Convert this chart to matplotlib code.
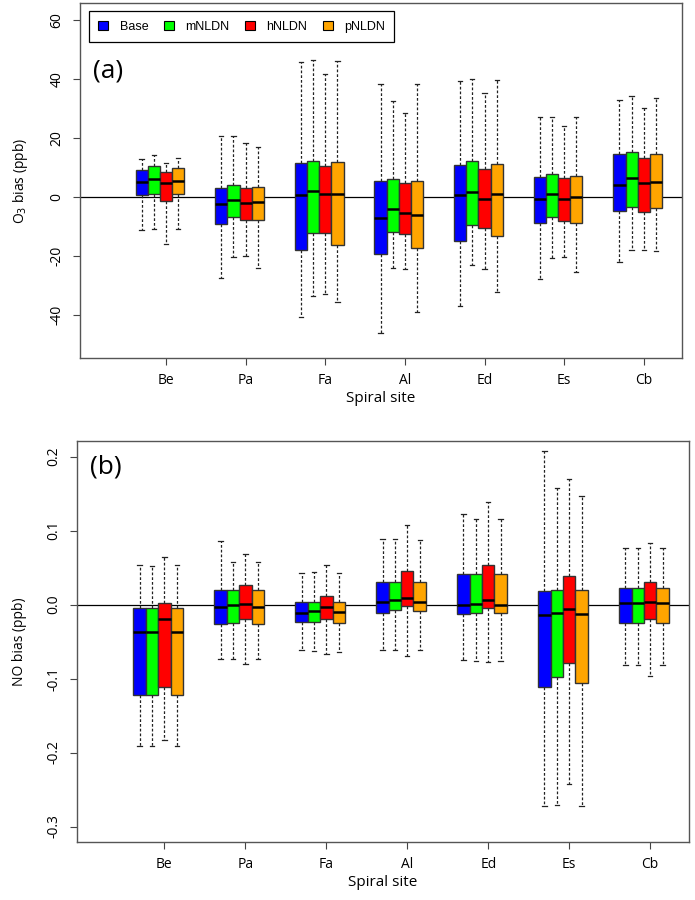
import matplotlib
matplotlib.use('Agg')
import matplotlib.pyplot as plt
from matplotlib.patches import Patch

# define data
sites = ['Be', 'Pa', 'Fa', 'Al', 'Ed', 'Es', 'Cb']
runs = ['Base', 'mNLDN', 'hNLDN', 'pNLDN']
colors = ['#0000ff', '#00ff00', '#ff0000', '#ffa500']

# O3 bias (ppb): whisker low, q1, median, q3, whisker high per site
o3_base_lo = [-11.2, -27.2, -40.7, -45.9, -37.0, -27.8, -22.0]
o3_base_q1 = [0.9, -9.1, -17.9, -19.2, -14.9, -8.8, -4.5]
o3_base_med = [5.3, -2.4, 0.8, -7.1, 0.9, -0.5, 4.2]
o3_base_q3 = [9.4, 3.2, 11.6, 5.6, 11.1, 6.8, 14.6]
o3_base_hi = [13.0, 20.9, 45.9, 38.5, 39.5, 27.4, 33.0]

o3_m_lo = [-10.9, -20.1, -33.3, -24.1, -23.0, -20.7, -17.8]
o3_m_q1 = [1.3, -6.6, -12.0, -11.8, -9.5, -6.6, -3.4]
o3_m_med = [6.2, -1.0, 2.1, -4.0, 1.7, 1.1, 6.4]
o3_m_q3 = [10.5, 4.2, 12.2, 6.3, 12.2, 7.8, 15.4]
o3_m_hi = [14.3, 20.9, 46.5, 32.6, 40.3, 27.4, 34.3]

o3_h_lo = [-15.7, -19.8, -32.7, -24.2, -24.2, -20.3, -17.8]
o3_h_q1 = [-1.1, -7.7, -12.0, -12.6, -10.3, -8.0, -4.9]
o3_h_med = [4.7, -1.8, 1.2, -5.3, -0.7, -0.5, 5.0]
o3_h_q3 = [8.5, 3.2, 10.8, 4.7, 9.6, 6.5, 13.2]
o3_h_hi = [11.6, 18.6, 41.7, 28.7, 35.5, 24.1, 30.4]

o3_p_lo = [-10.9, -23.9, -35.6, -38.8, -32.1, -25.4, -18.2]
o3_p_q1 = [1.1, -7.7, -16.1, -17.3, -13.2, -8.6, -3.7]
o3_p_med = [5.6, -1.6, 1.2, -6.1, 1.2, 0.2, 5.2]
o3_p_q3 = [10.0, 3.5, 12.0, 5.6, 11.3, 7.1, 14.8]
o3_p_hi = [13.4, 17.2, 46.3, 38.5, 39.9, 27.4, 33.6]

# NO bias (ppb)
no_base_lo = [-0.191, -0.074, -0.062, -0.061, -0.075, -0.272, -0.082]
no_base_q1 = [-0.122, -0.026, -0.024, -0.011, -0.013, -0.111, -0.025]
no_base_med = [-0.037, -0.003, -0.011, 0.003, -0.001, -0.014, 0.002]
no_base_q3 = [-0.005, 0.019, 0.003, 0.030, 0.041, 0.018, 0.022]
no_base_hi = [0.054, 0.086, 0.042, 0.088, 0.122, 0.208, 0.076]

no_m_lo = [-0.191, -0.074, -0.063, -0.061, -0.076, -0.271, -0.082]
no_m_q1 = [-0.122, -0.025, -0.023, -0.007, -0.011, -0.098, -0.025]
no_m_med = [-0.037, -0.001, -0.009, 0.006, 0.001, -0.011, 0.002]
no_m_q3 = [-0.005, 0.019, 0.004, 0.030, 0.041, 0.019, 0.022]
no_m_hi = [0.052, 0.058, 0.044, 0.088, 0.115, 0.157, 0.076]

no_h_lo = [-0.183, -0.080, -0.067, -0.069, -0.078, -0.242, -0.096]
no_h_q1 = [-0.112, -0.020, -0.020, -0.002, -0.005, -0.079, -0.020]
no_h_med = [-0.020, 0.001, -0.003, 0.009, 0.006, -0.006, 0.004]
no_h_q3 = [0.002, 0.026, 0.011, 0.045, 0.053, 0.038, 0.030]
no_h_hi = [0.064, 0.068, 0.054, 0.107, 0.139, 0.169, 0.083]

no_p_lo = [-0.191, -0.074, -0.064, -0.061, -0.076, -0.272, -0.082]
no_p_q1 = [-0.122, -0.026, -0.025, -0.009, -0.012, -0.106, -0.025]
no_p_med = [-0.037, -0.004, -0.010, 0.004, 0.000, -0.013, 0.002]
no_p_q3 = [-0.005, 0.019, 0.004, 0.030, 0.041, 0.019, 0.022]
no_p_hi = [0.054, 0.058, 0.043, 0.087, 0.115, 0.146, 0.076]

o3_series = [
    (o3_base_lo, o3_base_q1, o3_base_med, o3_base_q3, o3_base_hi),
    (o3_m_lo, o3_m_q1, o3_m_med, o3_m_q3, o3_m_hi),
    (o3_h_lo, o3_h_q1, o3_h_med, o3_h_q3, o3_h_hi),
    (o3_p_lo, o3_p_q1, o3_p_med, o3_p_q3, o3_p_hi),
]
no_series = [
    (no_base_lo, no_base_q1, no_base_med, no_base_q3, no_base_hi),
    (no_m_lo, no_m_q1, no_m_med, no_m_q3, no_m_hi),
    (no_h_lo, no_h_q1, no_h_med, no_h_q3, no_h_hi),
    (no_p_lo, no_p_q1, no_p_med, no_p_q3, no_p_hi),
]

plt.rcParams['font.family'] = ['Open Sans', 'DejaVu Sans']

box_w = 0.153
offsets = [-2, -1, 0, 1]


def draw_panel(ax, series, ylim, yticks, yticklabels, ylabel, tag, tag_y):
    ax.axhline(0, color='black', lw=0.9, zorder=1)
    for k, (lo, q1, med, q3, hi) in enumerate(series):
        stats = []
        for i in range(len(sites)):
            stats.append({'whislo': lo[i], 'q1': q1[i], 'med': med[i],
                          'q3': q3[i], 'whishi': hi[i], 'fliers': []})
        pos = [i + 1 + offsets[k] * box_w for i in range(len(sites))]
        ax.bxp(stats, positions=pos, widths=box_w, capwidths=box_w * 0.35,
               patch_artist=True, showfliers=False, manage_ticks=False,
               boxprops=dict(facecolor=colors[k], edgecolor='#333333', lw=1.0),
               medianprops=dict(color='black', lw=1.8),
               whiskerprops=dict(color='#222222', lw=0.9, linestyle=(0, (2.2, 1.6))),
               capprops=dict(color='#222222', lw=0.9))
    ax.set_xlim(-0.08, 7.48)
    ax.set_ylim(*ylim)
    ax.set_xticks(range(1, len(sites) + 1))
    ax.set_xticklabels(sites, fontsize=10)
    ax.set_yticks(yticks)
    ax.set_yticklabels(yticklabels, fontsize=10, rotation=90, va='center')
    ax.tick_params(direction='out', length=5, width=0.8, color='#444444', pad=6)
    ax.set_xlabel('Spiral site', fontsize=11, labelpad=2)
    ax.set_ylabel(ylabel, fontsize=10, labelpad=14)
    for s in ax.spines.values():
        s.set_color('#555555')
        s.set_linewidth(1.0)
    ax.text(0.022, tag_y, tag, transform=ax.transAxes,
            fontsize=19, va='center', ha='left')


fig = plt.figure(figsize=(6.95, 9.0), dpi=100)
ax1 = fig.add_axes([0.1151, 0.6022, 0.8662, 0.3944])
ax2 = fig.add_axes([0.1108, 0.0644, 0.8806, 0.4456])

draw_panel(ax1, o3_series, (-54.5, 65.9), [-40, -20, 0, 20, 40, 60],
           ['-40', '-20', '0', '20', '40', '60'], 'O$_3$ bias (ppb)', '(a)', 0.81)
draw_panel(ax2, no_series, (-0.321, 0.221), [-0.3, -0.2, -0.1, 0.0, 0.1, 0.2],
           ['-0.3', '-0.2', '-0.1', '0.0', '0.1', '0.2'], 'NO bias (ppb)', '(b)', 0.935)

handles = [Patch(facecolor=c, edgecolor='black', lw=0.8) for c in colors]
leg = ax1.legend(handles, runs, ncol=4, loc='upper left',
                 bbox_to_anchor=(0.015, 0.977), borderaxespad=0,
                 fancybox=False, edgecolor='black', framealpha=1,
                 handlelength=0.8, handleheight=0.8, handletextpad=0.9,
                 columnspacing=1.25, borderpad=0.75,
                 prop={'family': ['Liberation Sans Narrow', 'Liberation Sans'], 'size': 9})
leg.get_frame().set_linewidth(0.9)

plt.savefig('out.png', dpi=100)
